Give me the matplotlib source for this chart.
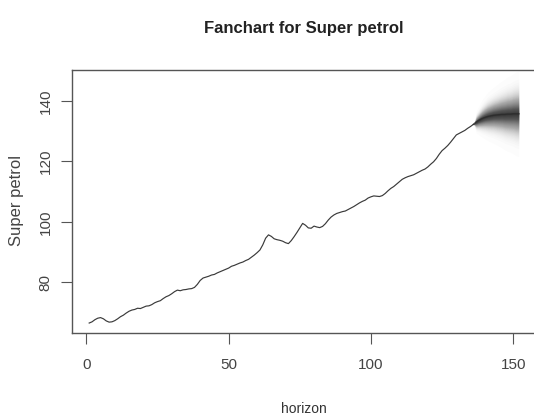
import numpy as np
import matplotlib.pyplot as plt
from math import erf

# historical series (index 1..136)
petrol = [66.5, 66.9, 67.6, 68.1, 68.3, 67.9, 67.2, 66.8, 66.9, 67.3,
          67.9, 68.6, 69.1, 69.8, 70.4, 70.8, 71.0, 71.4, 71.3, 71.7,
          72.1, 72.2, 72.6, 73.2, 73.6, 73.9, 74.6, 75.2, 75.6, 76.2,
          76.9, 77.4, 77.2, 77.5, 77.6, 77.8, 77.9, 78.3, 79.3, 80.6,
          81.4, 81.7, 82.0, 82.4, 82.6, 83.1, 83.5, 83.9, 84.3, 84.7,
          85.3, 85.6, 86.0, 86.4, 86.7, 87.2, 87.6, 88.3, 89.0, 89.8,
          90.7, 92.4, 94.6, 95.7, 95.2, 94.4, 94.1, 93.9, 93.6, 93.1,
          92.8, 93.8, 95.1, 96.5, 98.0, 99.5, 98.9, 98.0, 97.9, 98.6,
          98.3, 98.1, 98.5, 99.4, 100.6, 101.6, 102.3, 102.8, 103.1, 103.4,
          103.6, 104.1, 104.6, 105.1, 105.7, 106.3, 106.8, 107.2, 107.9, 108.3,
          108.6, 108.5, 108.4, 108.7, 109.4, 110.3, 111.1, 111.7, 112.5, 113.3,
          114.1, 114.6, 115.0, 115.3, 115.6, 116.1, 116.6, 117.1, 117.5, 118.2,
          119.1, 119.9, 121.0, 122.4, 123.6, 124.4, 125.3, 126.4, 127.6, 128.8,
          129.3, 129.8, 130.3, 131.0, 131.6, 132.3]

# forecast (16 steps): mean and standard deviation
fc_mean = [133.1, 133.7, 134.2, 134.6, 134.9, 135.1, 135.3, 135.4,
           135.5, 135.6, 135.6, 135.7, 135.7, 135.8, 135.8, 135.8]
fc_sd = [1.2, 1.6, 2.0, 2.3, 2.6, 2.8, 3.0, 3.2,
         3.4, 3.6, 3.8, 4.0, 4.1, 4.3, 4.5, 4.6]

xticks = [0, 50, 100, 150]
yticks = [80, 100, 120, 140]

plt.rcParams['font.family'] = ['Liberation Sans', 'DejaVu Sans']


def z_of(p):
    # inverse normal cdf by bisection
    lo, hi = 0.0, 6.0
    for _ in range(50):
        mid = (lo + hi) / 2
        if 0.5 * (1 + erf(mid / np.sqrt(2))) < p:
            lo = mid
        else:
            hi = mid
    return lo


fig = plt.figure(figsize=(5.34, 4.17), dpi=100)
ax = fig.add_axes([72/534, 1-333/417, 464/534, 263/417])

n = len(petrol)
x = np.arange(1, n+1)
ax.plot(x, petrol, color='#3a3a3a', lw=0.85)

# fan, anchored at the last observation
fx = np.arange(n, n+len(fc_mean)+1)
fm = np.array([petrol[-1]] + fc_mean)
fs = np.array([0.0] + fc_sd)
for p in np.linspace(0.505, 0.999, 100):
    z = z_of(p)
    ax.fill_between(fx, fm - z*fs, fm + z*fs, color='black', alpha=0.0125, lw=0)
ax.plot(fx, fm, color='#2a2a2a', lw=1.0, alpha=0.8)

ax.set_xlim(-5.04, 158)
ax.set_ylim(63.2, 150.3)
ax.set_xticks(xticks)
ax.set_yticks(yticks)
ax.set_xticklabels([str(t) for t in xticks])
ax.set_yticklabels([str(t) for t in yticks], rotation=90, va='center')
ax.tick_params(axis='both', length=8, width=0.8, color='#555555', labelcolor='#444444', labelsize=11)
ax.tick_params(axis='x', pad=10)
ax.tick_params(axis='y', pad=6)
for s in ['left', 'bottom', 'top']:
    ax.spines[s].set_color('#555555')
    ax.spines[s].set_linewidth(1.0)
ax.spines['right'].set_visible(False)

fig.text(304/534, 1-28/417, 'Fanchart for Super petrol', ha='center', va='center',
         fontsize=12, fontweight='bold', color='#222222')
fig.text(304/534, 1-409/417, 'horizon', ha='center', va='center', fontsize=10, color='#333333')
fig.text(17/534, 1-200/417, 'Super petrol', ha='center', va='center', rotation=90,
         fontsize=12, color='#444444')

fig.savefig('out.png', dpi=100)
